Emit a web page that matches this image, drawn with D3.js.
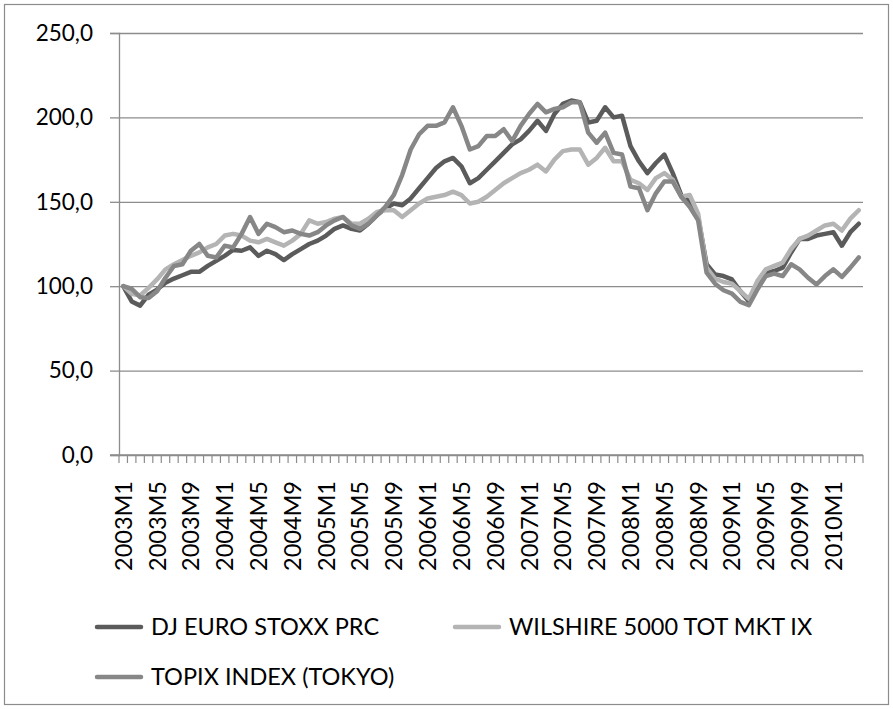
<!DOCTYPE html>
<html>
<head>
<meta charset="utf-8">
<script src="https://cdn.jsdelivr.net/npm/d3@7"></script>
<style>
  body { margin: 0; background: #fff; }
  text { font-family: Lato, "Open Sans", sans-serif; fill: #000; }
</style>
</head>
<body>
<svg id="chart" width="893" height="709"></svg>
<script>
// monthly categories 2003M1 .. 2010M4
var months = [];
for (var yr = 2003; yr <= 2010; yr++) {
  for (var m = 1; m <= 12; m++) {
    if (yr === 2010 && m > 4) break;
    months.push(yr + 'M' + m);
  }
}
var tickLabels = ['2003M1','2003M5','2003M9','2004M1','2004M5','2004M9','2005M1','2005M5',
  '2005M9','2006M1','2006M5','2006M9','2007M1','2007M5','2007M9','2008M1','2008M5','2008M9',
  '2009M1','2009M5','2009M9','2010M1'];
var yTicks = [0, 50, 100, 150, 200, 250];

var djEuroStoxx = [100,91,88.5,95,98,102,104.5,106.5,108.5,108.5,112,115,
  118,121.5,121,123,118,121,119,115.5,119,122,125,127,
  130,134,136,134,133,137,142,146,149,148,152,158,
  164,170,174,176,171,161,164,169,174,179,184,187,
  192,198,192,202,208,210,209,197,198,206,200,201,
  183,174,167,173,178,167,154,150,141,113,107,106,
  104,97,91,100,108,109,111,120,128,128,130,131,
  132,124,132,137];
var wilshire = [100,95.5,94.5,99,104,110,113,115.5,118,120,123,125,
  130,131,130,127,126,128,126,124,127,131,139,137,
  138,140,141,137,137,140,144,145,145,141,145,149,
  152,153,154,156,154,149,150,153,157,161,164,167,
  169,172,168,175,180,181,181,172,176,182,174,174,
  163,161,157,164,167,163,153,154,143,111,104.5,102.5,
  101.5,97,92.5,103,110,112,114,122,128,130,133,136,
  137,133,140,145];
var topix = [100,98.5,93.5,93,97,105,112,113,121,125,118,117,
  124,123,131,141,131,137,135,132,133,131,130,132,
  136,139,141,136,134,137,142,147,154,166,181,190,
  195,195,197,206,195,181,183,189,189,193,186,195,
  202,208,203,205,206,209,209,191,185,191,179,178,
  159,158,145,155,162,162,153,147,139,108,101.5,97.6,
  95.6,90.7,88.7,98,106,107.5,106,113,110,105,101,106,
  110,105.5,111,117];

var seriesNames = ['DJ EURO STOXX PRC', 'WILSHIRE 5000 TOT MKT IX', 'TOPIX INDEX (TOKYO)'];
var seriesColors = ['#5b5b5b', '#b4b4b4', '#878787'];
var seriesData = [djEuroStoxx, wilshire, topix];

function draw() {
  var svg = d3.select('#chart');
  var plotLeft = 119, plotRight = 863, plotTop = 33, plotBottom = 455;

  // outer frame
  svg.append('rect')
    .attr('x', 4.5).attr('y', 4.5)
    .attr('width', 884).attr('height', 700)
    .attr('fill', '#fff')
    .attr('stroke', '#8c8c8c')
    .attr('stroke-width', 1.2);

  var x = d3.scaleBand().domain(months).range([plotLeft, plotRight]);
  var y = d3.scaleLinear().domain([0, 250]).range([plotBottom, plotTop]);

  // gridlines
  svg.append('g')
    .attr('transform', 'translate(' + plotLeft + ',0)')
    .call(d3.axisLeft(y).tickValues(yTicks).tickSize(-(plotRight - plotLeft)).tickFormat(''))
    .call(function(g) {
      g.select('.domain').remove();
      g.selectAll('line').attr('stroke', '#8c8c8c').attr('stroke-width', 1.3);
    });

  // y axis
  svg.append('g')
    .attr('transform', 'translate(' + plotLeft + ',0)')
    .call(d3.axisLeft(y).tickValues(yTicks).tickSize(9).tickPadding(17)
      .tickFormat(function(d) { return d3.format('.1f')(d).replace('.', ','); }))
    .call(function(g) {
      g.select('.domain').attr('stroke', '#8c8c8c').attr('stroke-width', 1.3);
      g.selectAll('line').attr('stroke', '#8c8c8c').attr('stroke-width', 1.3);
      g.selectAll('text').style('font-size', '22.5px');
    });

  // x axis line and ticks between categories
  svg.append('line')
    .attr('x1', plotLeft - 9).attr('x2', plotRight)
    .attr('y1', plotBottom).attr('y2', plotBottom)
    .attr('stroke', '#8c8c8c').attr('stroke-width', 1.3);
  var boundaries = months.map(function(d) { return x(d); }).concat([plotRight]);
  svg.append('g').selectAll('line')
    .data(boundaries)
    .enter().append('line')
    .attr('x1', function(d) { return d; })
    .attr('x2', function(d) { return d; })
    .attr('y1', plotBottom)
    .attr('y2', plotBottom + 8)
    .attr('stroke', '#8c8c8c')
    .attr('stroke-width', 1.2);

  // x labels (every 4th month)
  svg.append('g')
    .attr('transform', 'translate(0,' + plotBottom + ')')
    .call(d3.axisBottom(x).tickValues(tickLabels).tickSize(0))
    .call(function(g) {
      g.select('.domain').remove();
      g.selectAll('text')
        .style('font-size', '23.5px')
        .attr('text-anchor', 'end')
        .attr('transform', 'rotate(-90)')
        .attr('x', -26)
        .attr('y', 0)
        .attr('dy', '0.36em');
    });

  // series lines
  var line = d3.line()
    .x(function(d, i) { return x(months[i]) + x.bandwidth() / 2; })
    .y(function(d) { return y(d); });

  seriesData.forEach(function(s, k) {
    svg.append('path')
      .datum(s)
      .attr('d', line)
      .attr('fill', 'none')
      .attr('stroke', seriesColors[k])
      .attr('stroke-width', 4.5)
      .attr('stroke-linejoin', 'round')
      .attr('stroke-linecap', 'round');
  });

  // legend
  var legendPos = [[97, 627], [455, 627], [97, 677]];
  seriesNames.forEach(function(name, k) {
    var p = legendPos[k];
    var g = svg.append('g').attr('transform', 'translate(' + p[0] + ',' + p[1] + ')');
    g.append('line')
      .attr('x1', 0).attr('x2', 44)
      .attr('stroke', seriesColors[k])
      .attr('stroke-width', 4.5)
      .attr('stroke-linecap', 'round');
    g.append('text')
      .attr('x', 54)
      .attr('dy', '0.36em')
      .style('font-size', '23.5px')
      .text(name);
  });
}
draw();
</script>
</body>
</html>
